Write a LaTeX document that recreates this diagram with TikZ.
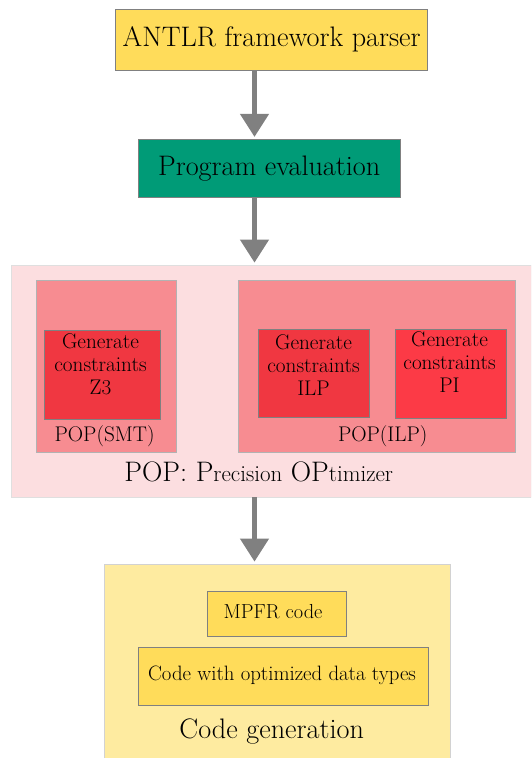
\documentclass[tikz,border=0pt]{standalone}
\usepackage{fontspec}
\usepackage{tikz}
\usetikzlibrary{arrows.meta,positioning}

\definecolor{parseryellow}{RGB}{255,220,90}
\definecolor{evalgreen}{RGB}{0,155,119}
\definecolor{poppink}{RGB}{252,222,224}
\definecolor{solverpink}{RGB}{247,140,145}
\definecolor{constred}{RGB}{240,55,65}
\definecolor{pired}{RGB}{252,58,70}
\definecolor{codecream}{RGB}{254,235,160}

\tikzset{
  box/.style={draw=gray, line width=0.8pt, inner sep=0pt},
  bigtxt/.style={font=\fontsize{28.2}{32}\selectfont, inner sep=0pt},
  smalltxt/.style={font=\fontsize{21.2}{23}\selectfont, align=center, inner sep=0pt},
  flow/.style={draw=gray, line width=4.5pt, -{Triangle[width=28pt,length=23pt]}, shorten >=2pt},
}

\begin{document}
\begin{tikzpicture}[x=1pt,y=-1pt]
    \useasboundingbox (0,0) rectangle (531,758);
    \clip (0,0) rectangle (531,758);

    % draw first two stages
    \node[box, fill=parseryellow, minimum width=312, minimum height=61] (antlr) at (271.7,39.7) {};
    \node[bigtxt] (antlrtxt) at (antlr.center) {ANTLR framework parser};
    \node[box, fill=evalgreen, minimum width=262, minimum height=58] (progeval) at (269.2,168.3) {};
    \node[bigtxt] (progevaltxt) at (progeval.center) {Program evaluation};

    % draw POP block
    \node[box, draw=gray!25, fill=poppink, minimum width=520, minimum height=232] (pop) at (271.5,381) {};
    \node[box, draw=gray!60, fill=solverpink, minimum width=139.5, minimum height=172] (popsmt) at (106.3,366.3) {};
    \node[box, draw=gray!60, fill=solverpink, minimum width=277.7, minimum height=172] (popilp) at (376.9,366.1) {};

    \node[box, fill=constred, minimum width=116, minimum height=88.6] (z3) at (102,374.7) {};
    \node[box, fill=constred, minimum width=111, minimum height=88.4] (ilp) at (313.5,373.6) {};
    \node[box, fill=pired, minimum width=111, minimum height=89] (pi) at (450.5,373.5) {};

    \node[smalltxt, below=3.2pt of z3.north, xshift=-1.5pt] (z3txt) {Generate\\constraints\\Z3};
    \node[smalltxt, below=5.2pt of ilp.north] (ilptxt) {Generate\\constraints\\ILP};
    \node[smalltxt, below=3pt of pi.north, xshift=-1pt] (pitxt) {Generate\\constraints\\PI};

    \node[smalltxt, anchor=base] (smtlabel) at (104.6,441) {POP(SMT)};
    \node[smalltxt, anchor=base] (ilplabel) at (382.7,441) {POP(ILP)};
    \node[bigtxt, anchor=base] (poplabel) at (258.8,481.8)
        {POP: P{\fontsize{23}{26}\selectfont recision} OP{\fontsize{23}{26}\selectfont timizer}};

    % draw code generation block
    \node[box, draw=gray!35, fill=codecream, minimum width=346.7, minimum height=210] (codegen) at (277.4,669) {};
    \node[box, fill=parseryellow, minimum width=139, minimum height=45] (mpfr) at (277.2,613.5) {};
    \node[box, fill=parseryellow, minimum width=289.6, minimum height=58] (optcode) at (283.5,676.3) {};
    \node[smalltxt, font=\fontsize{20.3}{23}\selectfont, anchor=base] (mpfrtxt) at (273,618) {MPFR code};
    \node[smalltxt, font=\fontsize{20.8}{23}\selectfont, anchor=base] (optcodetxt) at (282,680) {Code with optimized data types};
    \node[bigtxt, anchor=base] (codegenlabel) at (271.7,738) {Code generation};

    % draw arrows
    \coordinate (spine) at (254.5,0);
    \draw[flow] (antlr.south -| spine) -- (progeval.north -| spine);
    \draw[flow] (progeval.south -| spine) -- (pop.north -| spine);
    \draw[flow] (pop.south -| spine) -- (codegen.north -| spine);

  \end{tikzpicture}
\end{document}
